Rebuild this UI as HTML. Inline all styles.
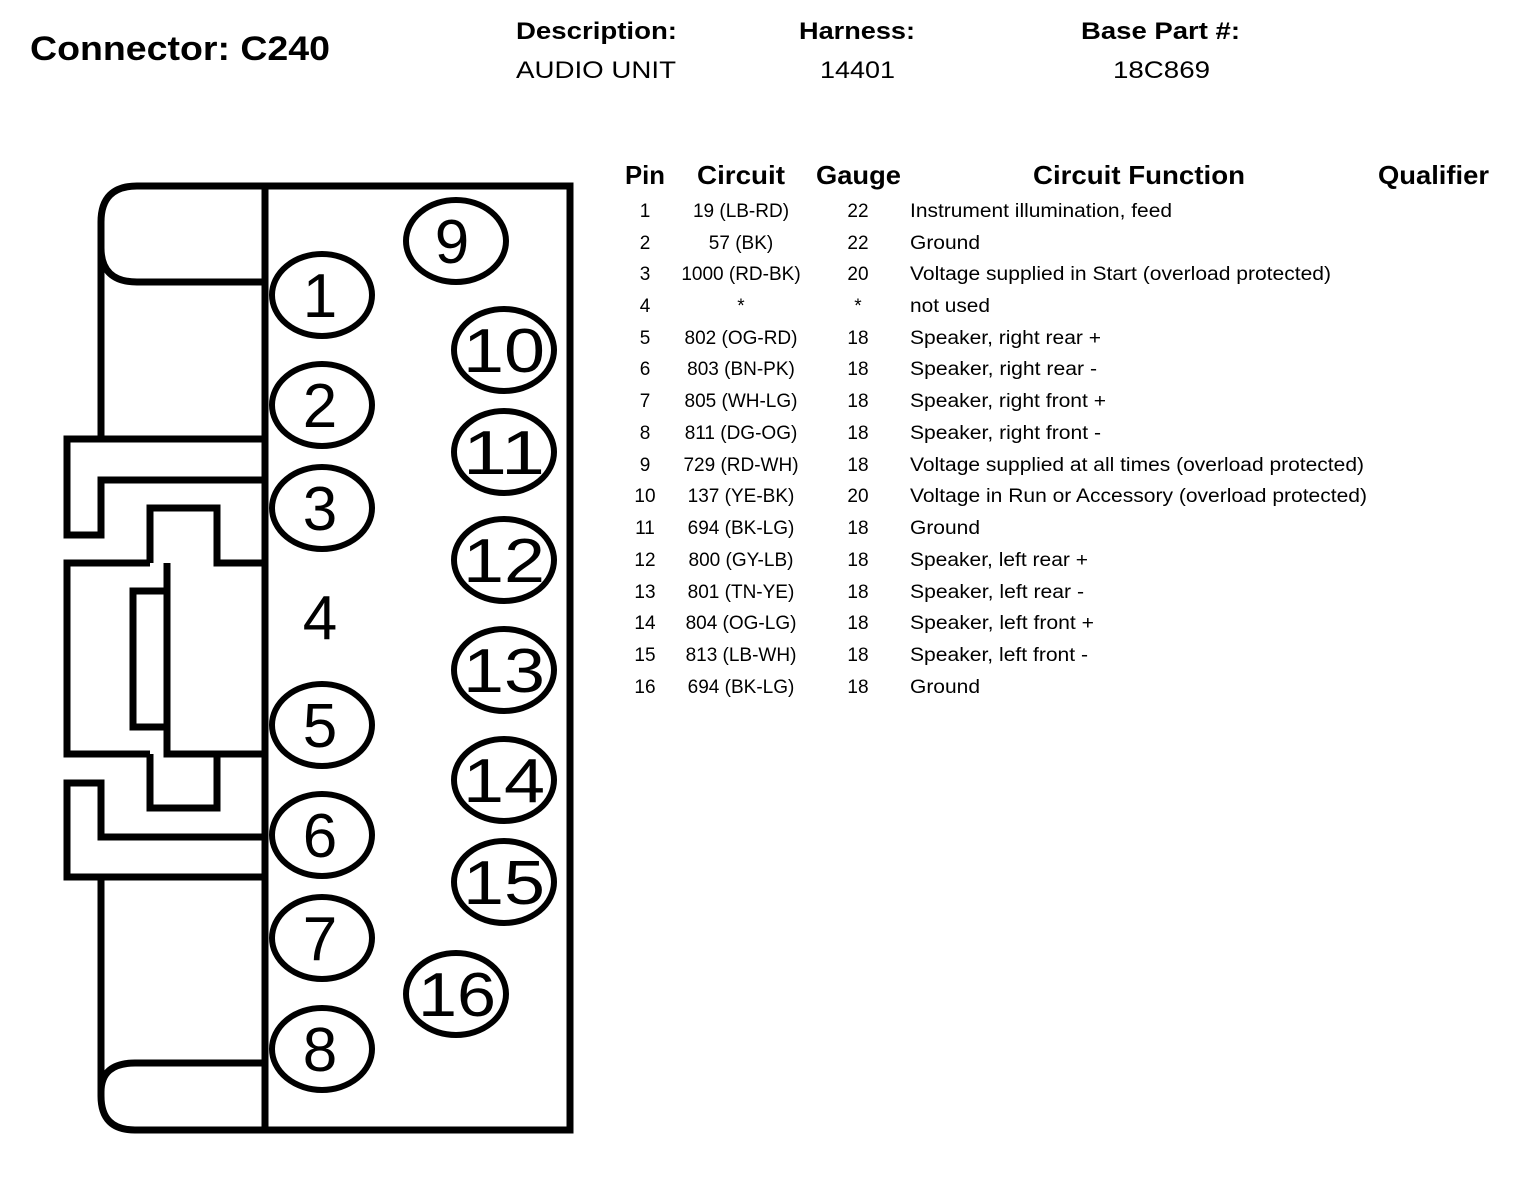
<!DOCTYPE html>
<html><head><meta charset="utf-8"><style>
html,body{margin:0;padding:0;background:#fff;}
svg{display:block;}
text{font-family:"Liberation Sans",Arial,sans-serif;fill:#000;}
.h{font-weight:bold;font-size:26px;}
.r{font-size:19px;}
.d{font-size:62px;}
</style></head><body>
<svg width="1520" height="1188" viewBox="0 0 1520 1188" xmlns="http://www.w3.org/2000/svg">
<text x="30" y="60" font-size="34" font-weight="bold" textLength="300" lengthAdjust="spacingAndGlyphs">Connector: C240</text>
<text x="516" y="39" font-size="24" font-weight="bold" textLength="161" lengthAdjust="spacingAndGlyphs">Description:</text>
<text x="516" y="78" font-size="24" textLength="160" lengthAdjust="spacingAndGlyphs">AUDIO UNIT</text>
<text x="799" y="39" font-size="24" font-weight="bold" textLength="116" lengthAdjust="spacingAndGlyphs">Harness:</text>
<text x="820" y="78" font-size="24" textLength="75" lengthAdjust="spacingAndGlyphs">14401</text>
<text x="1081" y="39" font-size="24" font-weight="bold" textLength="159" lengthAdjust="spacingAndGlyphs">Base Part #:</text>
<text x="1113" y="78" font-size="24" textLength="97" lengthAdjust="spacingAndGlyphs">18C869</text>

<g fill="none" stroke="#000" stroke-width="7" stroke-linejoin="miter">
<path d="M101 442 L101 222 Q101 186 137 186 L570 186 L570 1130 L135 1130 Q101 1130 101 1096 L101 880"/>
<line x1="265" y1="186" x2="265" y2="1130"/>
<path d="M101 248 Q101 282 137 282 L265 282"/>
<path d="M101 1092 Q101 1063 135 1063 L265 1063"/>
<path d="M265 439 L67 439 L67 535 L101 535 L101 480 L265 480"/>
<path d="M150 563 L67 563 L67 754 L150 754"/>
<path d="M150 563 L150 508 L217 508 L217 563 L265 563"/>
<path d="M167 563 L167 754 L265 754"/>
<path d="M217 754 L217 808 L150 808 L150 754"/>
<path d="M167 591 L133 591 L133 727 L167 727"/>
<path d="M265 837 L101 837 L101 783 L67 783 L67 877 L265 877"/>
</g>
<g fill="none" stroke="#000" stroke-width="6">
<ellipse cx="322" cy="295" rx="50" ry="41"/>
<ellipse cx="322" cy="405" rx="50" ry="41"/>
<ellipse cx="322" cy="508" rx="50" ry="41"/>
<ellipse cx="322" cy="725" rx="50" ry="41"/>
<ellipse cx="322" cy="835" rx="50" ry="41"/>
<ellipse cx="322" cy="938" rx="50" ry="41"/>
<ellipse cx="322" cy="1049" rx="50" ry="41"/>
<ellipse cx="456" cy="241" rx="50" ry="41"/>
<ellipse cx="504" cy="350" rx="50" ry="41"/>
<ellipse cx="504" cy="452" rx="50" ry="41"/>
<ellipse cx="504" cy="560" rx="50" ry="41"/>
<ellipse cx="504" cy="670" rx="50" ry="41"/>
<ellipse cx="504" cy="780" rx="50" ry="41"/>
<ellipse cx="504" cy="882" rx="50" ry="41"/>
<ellipse cx="456" cy="994" rx="50" ry="41"/>
</g>
<g class="d" text-anchor="middle">
<text x="320" y="317">1</text>
<text x="320" y="427">2</text>
<text x="320" y="530">3</text>
<text x="320" y="639">4</text>
<text x="320" y="747">5</text>
<text x="320" y="857">6</text>
<text x="320" y="960">7</text>
<text x="320" y="1071">8</text>
<text x="452" y="263">9</text>
<text x="504" y="372" textLength="82" lengthAdjust="spacingAndGlyphs">10</text>
<text x="504" y="474" textLength="82" lengthAdjust="spacingAndGlyphs">11</text>
<text x="504" y="582" textLength="82" lengthAdjust="spacingAndGlyphs">12</text>
<text x="504" y="692" textLength="82" lengthAdjust="spacingAndGlyphs">13</text>
<text x="504" y="802" textLength="82" lengthAdjust="spacingAndGlyphs">14</text>
<text x="504" y="904" textLength="82" lengthAdjust="spacingAndGlyphs">15</text>
<text x="457" y="1016" textLength="78" lengthAdjust="spacingAndGlyphs">16</text>
</g>

<g class="h">
<text x="625" y="184" textLength="40" lengthAdjust="spacingAndGlyphs">Pin</text>
<text x="697" y="184" textLength="88" lengthAdjust="spacingAndGlyphs">Circuit</text>
<text x="816" y="184" textLength="85" lengthAdjust="spacingAndGlyphs">Gauge</text>
<text x="1033" y="184" textLength="212" lengthAdjust="spacingAndGlyphs">Circuit Function</text>
<text x="1378" y="184" textLength="111" lengthAdjust="spacingAndGlyphs">Qualifier</text>
</g>
<g class="r">
<g text-anchor="middle">
<text x="645" y="217">1</text><text x="741" y="217">19 (LB-RD)</text><text x="858" y="217">22</text>
<text x="645" y="249">2</text><text x="741" y="249">57 (BK)</text><text x="858" y="249">22</text>
<text x="645" y="280">3</text><text x="741" y="280">1000 (RD-BK)</text><text x="858" y="280">20</text>
<text x="645" y="312">4</text><text x="741" y="312">*</text><text x="858" y="312">*</text>
<text x="645" y="344">5</text><text x="741" y="344">802 (OG-RD)</text><text x="858" y="344">18</text>
<text x="645" y="375">6</text><text x="741" y="375">803 (BN-PK)</text><text x="858" y="375">18</text>
<text x="645" y="407">7</text><text x="741" y="407">805 (WH-LG)</text><text x="858" y="407">18</text>
<text x="645" y="439">8</text><text x="741" y="439">811 (DG-OG)</text><text x="858" y="439">18</text>
<text x="645" y="471">9</text><text x="741" y="471">729 (RD-WH)</text><text x="858" y="471">18</text>
<text x="645" y="502">10</text><text x="741" y="502">137 (YE-BK)</text><text x="858" y="502">20</text>
<text x="645" y="534">11</text><text x="741" y="534">694 (BK-LG)</text><text x="858" y="534">18</text>
<text x="645" y="566">12</text><text x="741" y="566">800 (GY-LB)</text><text x="858" y="566">18</text>
<text x="645" y="598">13</text><text x="741" y="598">801 (TN-YE)</text><text x="858" y="598">18</text>
<text x="645" y="629">14</text><text x="741" y="629">804 (OG-LG)</text><text x="858" y="629">18</text>
<text x="645" y="661">15</text><text x="741" y="661">813 (LB-WH)</text><text x="858" y="661">18</text>
<text x="645" y="693">16</text><text x="741" y="693">694 (BK-LG)</text><text x="858" y="693">18</text>
</g>
<g>
<text x="910" y="217" textLength="262" lengthAdjust="spacingAndGlyphs">Instrument illumination, feed</text>
<text x="910" y="249" textLength="70" lengthAdjust="spacingAndGlyphs">Ground</text>
<text x="910" y="280" textLength="421" lengthAdjust="spacingAndGlyphs">Voltage supplied in Start (overload protected)</text>
<text x="910" y="312" textLength="80" lengthAdjust="spacingAndGlyphs">not used</text>
<text x="910" y="344" textLength="191" lengthAdjust="spacingAndGlyphs">Speaker, right rear +</text>
<text x="910" y="375" textLength="187" lengthAdjust="spacingAndGlyphs">Speaker, right rear -</text>
<text x="910" y="407" textLength="196" lengthAdjust="spacingAndGlyphs">Speaker, right front +</text>
<text x="910" y="439" textLength="191" lengthAdjust="spacingAndGlyphs">Speaker, right front -</text>
<text x="910" y="471" textLength="454" lengthAdjust="spacingAndGlyphs">Voltage supplied at all times (overload protected)</text>
<text x="910" y="502" textLength="457" lengthAdjust="spacingAndGlyphs">Voltage in Run or Accessory (overload protected)</text>
<text x="910" y="534" textLength="70" lengthAdjust="spacingAndGlyphs">Ground</text>
<text x="910" y="566" textLength="178" lengthAdjust="spacingAndGlyphs">Speaker, left rear +</text>
<text x="910" y="598" textLength="174" lengthAdjust="spacingAndGlyphs">Speaker, left rear -</text>
<text x="910" y="629" textLength="184" lengthAdjust="spacingAndGlyphs">Speaker, left front +</text>
<text x="910" y="661" textLength="178" lengthAdjust="spacingAndGlyphs">Speaker, left front -</text>
<text x="910" y="693" textLength="70" lengthAdjust="spacingAndGlyphs">Ground</text>
</g>
</g>
</svg>
</body></html>
